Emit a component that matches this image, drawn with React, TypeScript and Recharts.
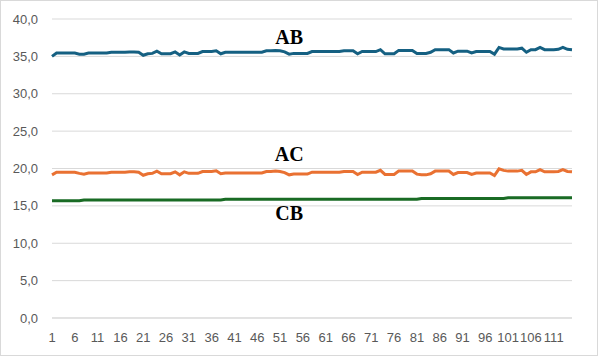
import { LineChart, Line, XAxis, YAxis, CartesianGrid, ReferenceDot, Label } from 'recharts';

// readings per sample, 1..115
const abValues = [
  35.0, 35.45, 35.45, 35.45, 35.45, 35.45, 35.3, 35.3, 35.45, 35.45,
  35.45, 35.45, 35.45, 35.55, 35.55, 35.55, 35.55, 35.6, 35.6, 35.55,
  35.15, 35.35, 35.4, 35.7, 35.35, 35.35, 35.35, 35.6, 35.2, 35.6,
  35.4, 35.4, 35.4, 35.65, 35.65, 35.65, 35.75, 35.35, 35.55, 35.55,
  35.55, 35.55, 35.55, 35.55, 35.55, 35.55, 35.55, 35.75, 35.75, 35.8,
  35.75, 35.6, 35.3, 35.4, 35.4, 35.4, 35.4, 35.65, 35.65, 35.65,
  35.65, 35.65, 35.65, 35.65, 35.75, 35.75, 35.75, 35.35, 35.65, 35.65,
  35.65, 35.65, 35.9, 35.35, 35.35, 35.35, 35.8, 35.8, 35.8, 35.8,
  35.4, 35.4, 35.4, 35.55, 35.9, 35.9, 35.9, 35.9, 35.45, 35.7,
  35.7, 35.7, 35.45, 35.65, 35.65, 35.65, 35.65, 35.3, 36.2, 36.0,
  36.0, 36.0, 36.0, 36.1, 35.55, 35.9, 35.9, 36.2, 35.9, 35.9,
  35.9, 35.95, 36.2, 35.95, 35.9,
];

const acValues = [
  19.15, 19.5, 19.5, 19.5, 19.5, 19.5, 19.35, 19.25, 19.4, 19.4,
  19.4, 19.4, 19.4, 19.5, 19.5, 19.5, 19.5, 19.55, 19.55, 19.5,
  19.1, 19.3, 19.35, 19.65, 19.3, 19.3, 19.3, 19.55, 19.15, 19.55,
  19.35, 19.35, 19.35, 19.6, 19.6, 19.6, 19.7, 19.3, 19.4, 19.4,
  19.4, 19.4, 19.4, 19.4, 19.4, 19.4, 19.4, 19.6, 19.6, 19.65,
  19.6, 19.45, 19.15, 19.25, 19.25, 19.25, 19.25, 19.5, 19.5, 19.5,
  19.5, 19.5, 19.5, 19.5, 19.6, 19.6, 19.6, 19.2, 19.5, 19.5,
  19.5, 19.5, 19.75, 19.2, 19.2, 19.2, 19.65, 19.65, 19.65, 19.65,
  19.25, 19.15, 19.15, 19.3, 19.65, 19.65, 19.65, 19.65, 19.2, 19.45,
  19.45, 19.45, 19.2, 19.4, 19.4, 19.4, 19.4, 19.05, 19.95, 19.75,
  19.65, 19.65, 19.65, 19.75, 19.2, 19.55, 19.55, 19.85, 19.55, 19.55,
  19.55, 19.6, 19.85, 19.6, 19.55,
];

const cbValues = [
  15.7, 15.7, 15.7, 15.7, 15.7, 15.7, 15.7, 15.8, 15.8, 15.8,
  15.8, 15.8, 15.8, 15.8, 15.8, 15.8, 15.8, 15.8, 15.8, 15.8,
  15.8, 15.8, 15.8, 15.8, 15.8, 15.8, 15.8, 15.8, 15.8, 15.8,
  15.8, 15.8, 15.8, 15.8, 15.8, 15.8, 15.8, 15.8, 15.9, 15.9,
  15.9, 15.9, 15.9, 15.9, 15.9, 15.9, 15.9, 15.9, 15.9, 15.9,
  15.9, 15.9, 15.9, 15.9, 15.9, 15.9, 15.9, 15.9, 15.9, 15.9,
  15.9, 15.9, 15.9, 15.9, 15.9, 15.9, 15.9, 15.9, 15.9, 15.9,
  15.9, 15.9, 15.9, 15.9, 15.9, 15.9, 15.9, 15.9, 15.9, 15.9,
  15.9, 16.0, 16.0, 16.0, 16.0, 16.0, 16.0, 16.0, 16.0, 16.0,
  16.0, 16.0, 16.0, 16.0, 16.0, 16.0, 16.0, 16.0, 16.0, 16.0,
  16.1, 16.1, 16.1, 16.1, 16.1, 16.1, 16.1, 16.1, 16.1, 16.1,
  16.1, 16.1, 16.1, 16.1, 16.1,
];

const yTicks = [0, 5, 10, 15, 20, 25, 30, 35, 40];

// series name labels drawn next to the lines (category, value)
const seriesLabels = [
  { text: 'AB', x: 53, y: 37.6 },
  { text: 'AC', x: 53, y: 22.0 },
  { text: 'CB', x: 53, y: 14.0 },
];

const colors = { AB: '#156082', AC: '#E97132', CB: '#196B24' };

const chartData = abValues.map((ab, i) => ({
  idx: i + 1,
  AB: ab,
  AC: acValues[i],
  CB: cbValues[i],
}));

const formatTick = (v: number) => v.toFixed(1).replace('.', ',');

export default function App() {
  const tickStyle = { fill: '#595959', fontSize: 13, fontFamily: 'Liberation Sans, Arial, sans-serif' };

  return (
    <div style={{ position: 'absolute', left: 0, top: 0, width: 600, height: 357, background: '#fff' }}>
      <div
        style={{
          position: 'absolute',
          left: 0,
          top: 0,
          width: 596,
          height: 354,
          border: '1px solid #d9d9d9',
        }}
      />
      <LineChart
        width={600}
        height={357}
        data={chartData}
        margin={{ top: 19, right: 28, bottom: 0, left: 0 }}
      >
        <CartesianGrid vertical={false} stroke="#d9d9d9" strokeWidth={1} />
        <XAxis
          dataKey="idx"
          interval={4}
          tickLine={false}
          axisLine={{ stroke: '#d9d9d9' }}
          tick={tickStyle}
          tickSize={0}
          tickMargin={15}
          height={39}
        />
        <YAxis
          domain={[0, 40]}
          ticks={yTicks}
          tickFormatter={formatTick}
          axisLine={false}
          tickLine={false}
          tick={tickStyle}
          tickSize={0}
          tickMargin={14}
          width={52}
        />
        {(['AB', 'AC', 'CB'] as const).map((key) => (
          <Line
            key={key}
            type="linear"
            dataKey={key}
            stroke={colors[key]}
            strokeWidth={3}
            dot={false}
            isAnimationActive={false}
          />
        ))}
        {seriesLabels.map((l) => (
          <ReferenceDot key={l.text} x={l.x} y={l.y} r={0} stroke="none" fill="none">
            <Label
              value={l.text}
              position="center"
              fill="#000"
              fontSize={20}
              fontWeight="bold"
              fontFamily="Liberation Serif, Times New Roman, serif"
            />
          </ReferenceDot>
        ))}
      </LineChart>
    </div>
  );
}
